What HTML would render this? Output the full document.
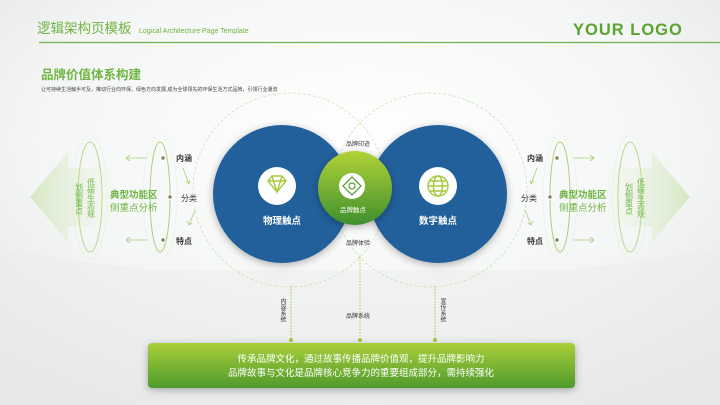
<!DOCTYPE html>
<html><head><meta charset="utf-8"><style>
body{margin:0;width:720px;height:405px;overflow:hidden;font-family:"Liberation Sans","Noto Sans CJK SC",sans-serif;}
svg{display:block}
text{font-family:"Liberation Sans","Noto Sans CJK SC",sans-serif}
.v{writing-mode:vertical-rl;text-orientation:upright}
</style></head><body>
<svg width="720" height="405" viewBox="0 0 720 405">
<defs>
<radialGradient id="bg" cx="50%" cy="35%" r="75%"><stop offset="0" stop-color="#ffffff"/><stop offset="0.6" stop-color="#f4f5f5"/><stop offset="1" stop-color="#e2e4e4"/></radialGradient>
<linearGradient id="gb" x1="0" y1="0" x2="0" y2="1"><stop offset="0" stop-color="#a9cf3a"/><stop offset="1" stop-color="#4f9a2c"/></linearGradient>
<linearGradient id="gc" x1="0" y1="0" x2="0" y2="1"><stop offset="0" stop-color="#b1d236"/><stop offset="1" stop-color="#3f8f2d"/></linearGradient>
<linearGradient id="al" x1="0" y1="0" x2="1" y2="0"><stop offset="0" stop-color="#d6e8c4"/><stop offset="1" stop-color="#eef5e6" stop-opacity="0.2"/></linearGradient>
<linearGradient id="ar" x1="1" y1="0" x2="0" y2="0"><stop offset="0" stop-color="#d6e8c4"/><stop offset="1" stop-color="#eef5e6" stop-opacity="0.2"/></linearGradient>
<filter id="sh" x="-30%" y="-30%" width="160%" height="160%"><feDropShadow dx="0" dy="2" stdDeviation="4" flood-opacity="0.3"/></filter>
</defs>
<rect width="720" height="405" fill="url(#bg)"/>
<polygon points="0,250 150,270 570,270 720,250 720,405 0,405" fill="#ececec" opacity="0.5"/>
<!-- header -->
<text x="37" y="33" font-size="13.5" fill="#6fb541">逻辑架构页模板</text>
<text x="139" y="33" font-size="7" fill="#6fb541">Logical Architecture Page Template</text>
<text x="573" y="35" font-size="16.5" font-weight="bold" fill="#5ba32f" letter-spacing="1">YOUR LOGO</text>
<line x1="39" y1="42.5" x2="720" y2="42.5" stroke="#6fb541" stroke-width="1.2"/>
<text x="41" y="79" font-size="12.5" font-weight="bold" fill="#6fb541">品牌价值体系构建</text>
<text x="41" y="91" font-size="5" fill="#444">让可持续生活触手可及，推动行业向环保，绿色方向发展,成为全球领先的环保生活方式品牌，引领行业潮流</text>
<!-- left side -->
<polygon points="30,197 68,152 68,168 112,168 112,226 68,226 68,242" fill="url(#al)"/>
<ellipse cx="90" cy="197" rx="12" ry="55" fill="none" stroke="#b9da8e" stroke-width="1"/>
<ellipse cx="90" cy="197" rx="17" ry="62" fill="none" stroke="#dbe9c9" stroke-width="0.6" stroke-dasharray="2 2"/>
<ellipse cx="160" cy="197" rx="10" ry="55" fill="none" stroke="#a9d27a" stroke-width="1"/>
<ellipse cx="160" cy="197" rx="17" ry="63" fill="none" stroke="#dbe9c9" stroke-width="0.6" stroke-dasharray="2 2"/>
<g fill="#8a7a5a" stroke="#fff" stroke-width="1"><circle cx="163" cy="158" r="2.2"/><circle cx="170" cy="197" r="2.2"/><circle cx="163" cy="240" r="2.2"/></g>
<g stroke="#a9cf7a" stroke-width="0.8" fill="none"><path d="M147 158H126M130 155l-4 3 4 3"/><path d="M147 240H126M130 237l-4 3 4 3"/><path d="M183 168l6 16M186 181l3 3 1-4"/><path d="M195 210l-6 15M187 221l2 4 3-2"/></g>
<text x="176" y="161" font-size="8" font-weight="bold" fill="#333">内涵</text>
<text x="181" y="201" font-size="8" fill="#333">分类</text>
<text x="176" y="244" font-size="8" font-weight="bold" fill="#333">特点</text>
<text x="110" y="198" font-size="9.5" font-weight="bold" fill="#6fb541">典型功能区</text>
<text x="110" y="211" font-size="9.5" fill="#6fb541">侧重点分析</text>
<g font-size="8" fill="#6fb541"><text class="v" x="91" y="178">低碳生态规</text><text class="v" x="79" y="183">划侧重点</text></g>
<!-- right side -->
<polygon points="690,197 652,152 652,168 608,168 608,226 652,226 652,242" fill="url(#ar)"/>
<ellipse cx="630" cy="197" rx="12" ry="55" fill="none" stroke="#b9da8e" stroke-width="1"/>
<ellipse cx="630" cy="197" rx="17" ry="62" fill="none" stroke="#dbe9c9" stroke-width="0.6" stroke-dasharray="2 2"/>
<ellipse cx="560" cy="197" rx="10" ry="55" fill="none" stroke="#a9d27a" stroke-width="1"/>
<ellipse cx="560" cy="197" rx="17" ry="63" fill="none" stroke="#dbe9c9" stroke-width="0.6" stroke-dasharray="2 2"/>
<g fill="#8a7a5a" stroke="#fff" stroke-width="1"><circle cx="557" cy="158" r="2.2"/><circle cx="550" cy="197" r="2.2"/><circle cx="557" cy="240" r="2.2"/></g>
<g stroke="#a9cf7a" stroke-width="0.8" fill="none"><path d="M573 158H594M590 155l4 3-4 3"/><path d="M573 240H594M590 237l4 3-4 3"/><path d="M537 168l-6 16M534 181l-3 3-1-4"/><path d="M525 210l6 15M533 221l-2 4-3-2"/></g>
<text x="527" y="161" font-size="8" font-weight="bold" fill="#333">内涵</text>
<text x="521" y="201" font-size="8" fill="#333">分类</text>
<text x="527" y="244" font-size="8" font-weight="bold" fill="#333">特点</text>
<text x="559" y="198" font-size="9.5" font-weight="bold" fill="#6fb541">典型功能区</text>
<text x="559" y="211" font-size="9.5" fill="#6fb541">侧重点分析</text>
<g font-size="8" fill="#6fb541"><text class="v" x="641" y="178">低碳生态规</text><text class="v" x="629" y="183">划侧重点</text></g>
<!-- dashed circles -->
<circle cx="290" cy="190" r="97" fill="none" stroke="#b9da8e" stroke-width="0.7" stroke-dasharray="3 2" opacity="0.8"/>
<circle cx="430" cy="190" r="97" fill="none" stroke="#b9da8e" stroke-width="0.7" stroke-dasharray="3 2" opacity="0.8"/>
<g stroke="#a9c93a" stroke-width="1" stroke-dasharray="1.5 1.5"><line x1="291" y1="286" x2="291" y2="340"/><line x1="360" y1="257" x2="360" y2="340"/><line x1="435" y1="286" x2="435" y2="340"/></g>
<g fill="#a9c93a"><circle cx="291" cy="340" r="2"/><circle cx="360" cy="340" r="2"/><circle cx="435" cy="340" r="2"/></g>
<g font-size="6" fill="#333"><text class="v" x="282" y="298">内容系统</text><text x="346" y="318">品牌系统</text><text class="v" x="442" y="298">宣传系统</text></g>
<!-- blue circles -->
<circle cx="282" cy="194" r="69" fill="#20619b" filter="url(#sh)"/>
<circle cx="438" cy="194" r="69" fill="#20619b" filter="url(#sh)"/>
<circle cx="277" cy="186" r="19" fill="#fff"/>
<circle cx="438" cy="186" r="19" fill="#fff"/>
<g stroke="#a9c93a" stroke-width="1.4" fill="none"><path d="M268 181l4-5h10l4 5-9 11z M268 181h18 M272 176l5 16 5-16"/>
<circle cx="438" cy="186" r="10"/><ellipse cx="438" cy="186" rx="4.5" ry="10"/><path d="M428 186h20M430 181h16M430 191h16"/></g>
<text x="282" y="224" font-size="9.5" font-weight="bold" fill="#fff" text-anchor="middle">物理触点</text>
<text x="438" y="224" font-size="9.5" font-weight="bold" fill="#fff" text-anchor="middle">数字触点</text>
<text x="358" y="146" font-size="6" fill="#333" text-anchor="middle">品牌印迹</text>
<text x="358" y="245" font-size="6" fill="#333" text-anchor="middle">品牌体验</text>
<circle cx="355" cy="188" r="37" fill="url(#gc)" filter="url(#sh)"/>
<circle cx="352" cy="186" r="13" fill="#fff"/>
<g stroke="#4f9a2c" stroke-width="1.2" fill="none"><path d="M352 177l9 9-9 9-9-9z"/><circle cx="352" cy="186" r="3"/></g>
<text x="353" y="212" font-size="6.5" fill="#fff" text-anchor="middle">品牌触点</text>
<!-- bottom box -->
<rect x="148" y="343" width="427" height="45" rx="4" fill="url(#gb)" filter="url(#sh)"/>
<text x="361" y="362" font-size="9.5" fill="#fff" text-anchor="middle">传承品牌文化，通过故事传播品牌价值观，提升品牌影响力</text>
<text x="361" y="376" font-size="9.5" fill="#fff" text-anchor="middle">品牌故事与文化是品牌核心竞争力的重要组成部分，需持续强化</text>
</svg>
</body></html>
